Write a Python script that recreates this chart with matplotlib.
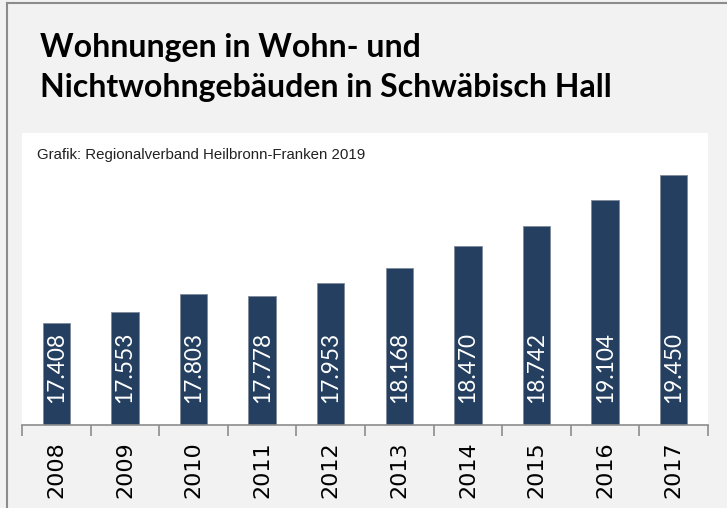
import matplotlib.pyplot as plt
from matplotlib.lines import Line2D

years = ['2008', '2009', '2010', '2011', '2012', '2013', '2014', '2015', '2016', '2017']
wohnungen = [17408, 17553, 17803, 17778, 17953, 18168, 18470, 18742, 19104, 19450]
labels = ['17.408', '17.553', '17.803', '17.778', '17.953', '18.168', '18.470', '18.742', '19.104', '19.450']

W, H = 727, 508
fig = plt.figure(figsize=(W / 100, H / 100), dpi=100, facecolor='#f2f2f2')

# outer frame lines (left + top)
fig.add_artist(Line2D([7 / W, 7 / W], [0, 1 - 3 / H], transform=fig.transFigure, color='#8c8c8c', lw=1.5))
fig.add_artist(Line2D([7 / W, 1], [1 - 3 / H, 1 - 3 / H], transform=fig.transFigure, color='#8c8c8c', lw=1.5))

# white panel
x0, x1 = 22, 708
ytop, ybase = 133, 425
ax = fig.add_axes([x0 / W, (H - ybase) / H, (x1 - x0) / W, (ybase - ytop) / H])
ax.set_facecolor('white')

xs = range(len(years))
ax.bar(xs, wohnungen, width=0.4, color='#243f60', edgecolor='#7f8a99', linewidth=0.6)
ax.set_ylim(16000, 20030)
ax.set_xlim(-0.5, len(years) - 0.5)

for x, lab in zip(xs, labels):
    ax.text(x, 16300, lab, rotation=90, ha='center', va='bottom', color='white',
            fontsize=16.3, family='Lato')

for s in ['top', 'right', 'left']:
    ax.spines[s].set_visible(False)
ax.spines['bottom'].set_color('#8c8c8c')
ax.spines['bottom'].set_linewidth(1.2)
ax.set_yticks([])
ax.set_xticks(list(xs))
ax.set_xticklabels(years, rotation=90, fontsize=16, family='DejaVu Sans')
ax.tick_params(axis='x', which='major', length=0, pad=12)
ax.set_xticks([i - 0.5 for i in range(len(years) + 1)], minor=True)
ax.tick_params(axis='x', which='minor', length=8, color='#8c8c8c', width=1.2)

fig.text(40 / W, 1 - 48 / H, 'Wohnungen in Wohn- und', fontsize=23, fontweight='bold',
         family='Lato', va='center', ha='left')
fig.text(40 / W, 1 - 88 / H, 'Nichtwohngebäuden in Schwäbisch Hall', fontsize=23, fontweight='bold',
         family='Lato', va='center', ha='left')
fig.text(37 / W, 1 - 155 / H, 'Grafik: Regionalverband Heilbronn-Franken 2019', fontsize=10.8,
         family='Liberation Sans', va='center', ha='left', color='#222222')

fig.savefig('out.png', dpi=100, facecolor=fig.get_facecolor())
